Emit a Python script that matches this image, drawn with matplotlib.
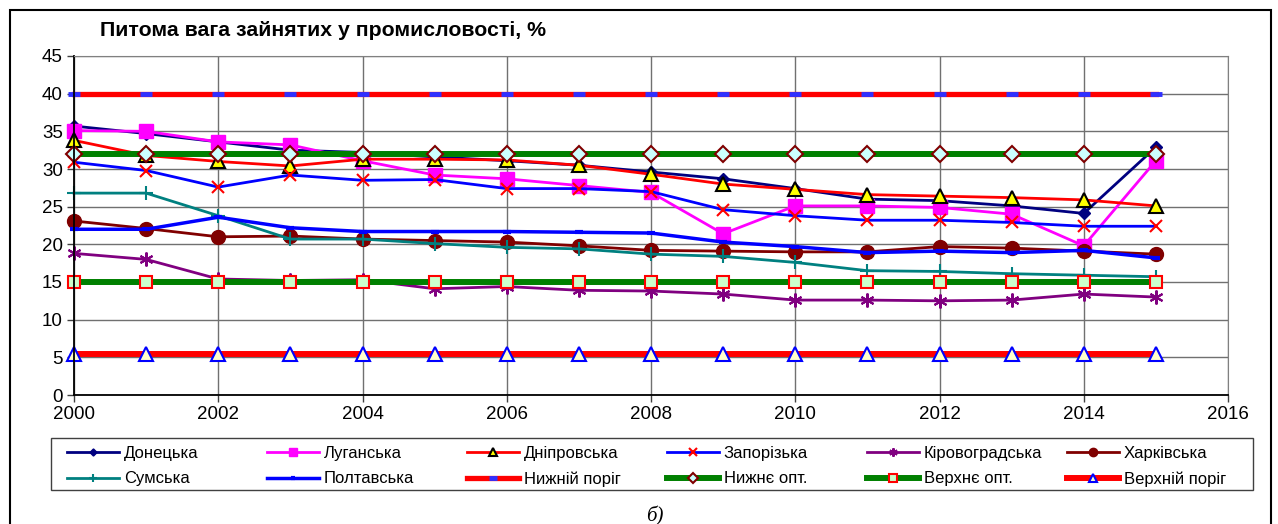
import matplotlib
matplotlib.use('Agg')
import matplotlib.pyplot as plt
from matplotlib.patches import Rectangle

plt.rcParams['font.family'] = ['Liberation Sans', 'DejaVu Sans']

years = list(range(2000, 2016))

# питома вага зайнятих у промисловості, %
donetska = [35.7, 34.7, 33.6, 32.5, 32.2, 31.6, 31.1, 30.5, 29.6, 28.7, 27.4, 26.0, 25.8, 25.1, 24.1, 32.9]
luhanska = [35.1, 35.0, 33.6, 33.2, 31.1, 29.2, 28.7, 27.8, 26.9, 21.4, 25.1, 25.1, 24.9, 24.0, 19.8, 31.1]
dniprovska = [33.8, 31.8, 31.0, 30.4, 31.3, 31.3, 31.2, 30.5, 29.3, 28.0, 27.3, 26.6, 26.4, 26.2, 25.9, 25.1]
zaporizka = [30.9, 29.8, 27.6, 29.2, 28.5, 28.6, 27.4, 27.4, 27.0, 24.6, 23.8, 23.2, 23.2, 22.9, 22.4, 22.4]
kirovohradska = [18.8, 18.0, 15.4, 15.2, 15.3, 14.1, 14.4, 13.9, 13.8, 13.4, 12.6, 12.6, 12.5, 12.6, 13.4, 13.0]
kharkivska = [23.1, 22.1, 21.0, 21.1, 20.7, 20.5, 20.3, 19.8, 19.2, 19.1, 19.0, 19.0, 19.7, 19.5, 19.1, 18.7]
sumska = [26.8, 26.8, 23.8, 20.7, 20.7, 20.1, 19.6, 19.4, 18.7, 18.4, 17.6, 16.5, 16.4, 16.1, 15.9, 15.7]
poltavska = [22.0, 22.0, 23.6, 22.2, 21.7, 21.7, 21.7, 21.6, 21.5, 20.3, 19.7, 18.9, 19.1, 18.9, 19.2, 18.2]
nyzhnii_porih = [40] * 16
nyzhnie_opt = [32] * 16
verkhnie_opt = [15] * 16
verkhnii_porih = [5.5] * 16

labels = ['Донецька', 'Луганська', 'Дніпровська', 'Запорізька', 'Кіровоградська', 'Харківська',
          'Сумська', 'Полтавська', 'Нижній поріг', 'Нижнє опт.', 'Верхнє опт.', 'Верхній поріг']
series = [donetska, luhanska, dniprovska, zaporizka, kirovohradska, kharkivska,
          sumska, poltavska, nyzhnii_porih, nyzhnie_opt, verkhnie_opt, verkhnii_porih]

styles = [
    dict(color='#000080', lw=2, marker='D', ms=6, mfc='#000080', mec='#000080'),
    dict(color='#FF00FF', lw=2, marker='s', ms=10, mfc='#FF00FF', mec='#FF00FF'),
    dict(color='#FF0000', lw=2, marker='^', ms=10, mfc='#FFFF00', mec='black', mew=1.5),
    dict(color='#0000FF', lw=2, marker='x', ms=9, mec='#FF0000', mew=1.5),
    dict(color='#800080', lw=2, marker=(6, 2, 0), ms=10, mec='#800080', mew=1.5),
    dict(color='#800000', lw=2, marker='o', ms=10, mfc='#800000', mec='#800000'),
    dict(color='#008080', lw=2, marker='+', ms=10, mec='#008080', mew=1.5),
    dict(color='#0000FF', lw=2.5, marker='_', ms=6, mec='#0000FF', mew=3),
    dict(color='#FF0000', lw=3.8, marker='_', ms=9, mec='#3030FF', mew=3.5),
    dict(color='#008000', lw=4.3, marker='D', ms=8, mfc='#CCFFFF', mec='#800000', mew=1.5),
    dict(color='#008000', lw=4.3, marker='s', ms=9, mfc='#CCFFCC', mec='#FF0000', mew=1.5),
    dict(color='#FF0000', lw=4.3, marker='^', ms=10, mfc='#FFFFCC', mec='#0000FF', mew=1.5),
]

W, H = 1278, 524
fig = plt.figure(figsize=(W / 100, H / 100), dpi=100)
ax = fig.add_axes([74 / W, 1 - 395 / H, (1228 - 74) / W, (395 - 56) / H])

handles = []
for vals, lab, st in zip(series, labels, styles):
    ln, = ax.plot(years, vals, label=lab, clip_on=False, **st)
    handles.append(ln)

ax.set_xlim(2000, 2016)
ax.set_ylim(0, 45)
ax.set_xticks(range(2000, 2017, 2))
ax.set_yticks(range(0, 46, 5))
ax.grid(True, color='#707070', lw=1)
ax.set_axisbelow(True)
ax.tick_params(labelsize=13.5, length=5, width=1, color='#404040', pad=3)
for s in ['top', 'right']:
    ax.spines[s].set_color('#808080')
for s in ['left', 'bottom']:
    ax.spines[s].set_color('black')
    ax.spines[s].set_linewidth(1.3)

fig.text(100 / W, 1 - 30 / H, 'Питома вага зайнятих у промисловості, %',
         fontsize=15.3, fontweight='bold', ha='left', va='center')

# legend: 6 equal columns, two rows, like Excel
col_x = [67, 267, 467, 667, 867, 1067]
for i, x in enumerate(col_x):
    leg = fig.legend([handles[i], handles[i + 6]], [labels[i], labels[i + 6]],
                     loc='upper left', bbox_to_anchor=(x / W, 1 - 446 / H),
                     frameon=False, fontsize=12, handlelength=3.1, handletextpad=0.3,
                     borderpad=0, borderaxespad=0, labelspacing=0.62, markerscale=0.6)
fig.patches.append(Rectangle((51 / W, 1 - 490 / H), (1253 - 51) / W, 52 / H,
                             transform=fig.transFigure, fill=False, ec='#404040', lw=1))

# outer frame
fig.patches.append(Rectangle((10 / W, -0.05), (1271 - 10) / W, 1 - 10 / H + 0.05,
                             transform=fig.transFigure, fill=False, ec='black', lw=1.5))

fig.text(655 / W, 1 - 516 / H, 'б)', fontsize=15, style='italic',
         family='Liberation Serif', ha='center', va='center')

fig.savefig('out.png', dpi=100)
